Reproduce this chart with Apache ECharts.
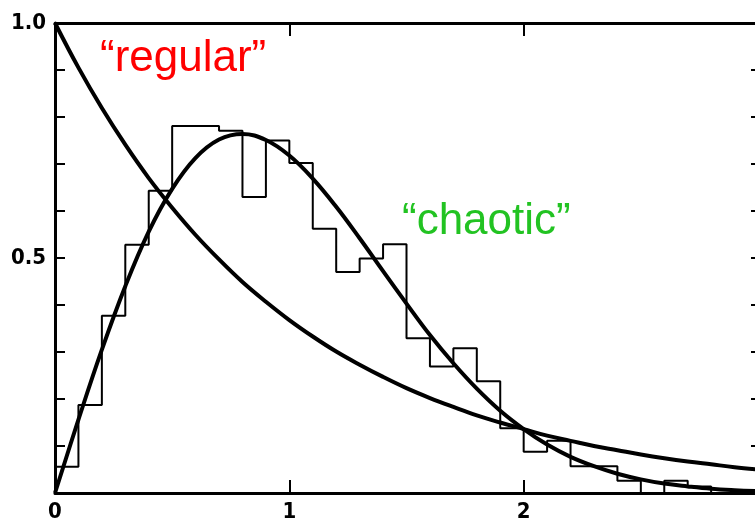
<!DOCTYPE html>
<html>
<head>
<meta charset="utf-8">
<script src="https://cdn.jsdelivr.net/npm/echarts@6/dist/echarts.min.js"></script>
<style>
  html, body { margin: 0; padding: 0; background: #fff; }
  #chart { width: 755px; height: 527px; }
</style>
</head>
<body>
<div id="chart"></div>
<script>
// Level spacing s (in units of mean spacing) where the two reference curves are sampled
const sPoints = [0, 0.1, 0.2, 0.3, 0.4, 0.5, 0.6, 0.7, 0.8, 0.9, 1.0, 1.1, 1.2, 1.3, 1.4, 1.5,
                 1.6, 1.7, 1.8, 1.9, 2.0, 2.1, 2.2, 2.3, 2.4, 2.5, 2.6, 2.7, 2.8, 2.9, 3.0];

// "regular" spectrum: Poisson-like decay
const regularCurve = [1.000, 0.905, 0.819, 0.741, 0.670, 0.607, 0.549, 0.497, 0.449, 0.407, 0.368,
                      0.333, 0.301, 0.273, 0.247, 0.223, 0.202, 0.183, 0.165, 0.150, 0.136,
                      0.122, 0.111, 0.100, 0.091, 0.082, 0.074, 0.067, 0.061, 0.055, 0.050];

// "chaotic" spectrum: level-repulsion curve
const chaoticCurve = [0.000, 0.156, 0.305, 0.440, 0.556, 0.647, 0.713, 0.752, 0.764, 0.751, 0.718,
                      0.669, 0.609, 0.542, 0.472, 0.403, 0.336, 0.276, 0.222, 0.175, 0.136,
                      0.103, 0.077, 0.057, 0.041, 0.029, 0.020, 0.014, 0.009, 0.006, 0.004];

// Histogram of measured spacings: left edge of each 0.1-wide bin and its height
const binStarts  = [0.0, 0.1, 0.2, 0.3, 0.4, 0.5, 0.6, 0.7, 0.8, 0.9, 1.0, 1.1, 1.2, 1.3, 1.4,
                    1.5, 1.6, 1.7, 1.8, 1.9, 2.0, 2.1, 2.2, 2.3, 2.4, 2.5, 2.6, 2.7, 2.8, 3.0];
const binHeights = [0.056, 0.187, 0.377, 0.528, 0.643, 0.781, 0.781, 0.771, 0.630, 0.750, 0.702,
                    0.562, 0.470, 0.499, 0.529, 0.329, 0.269, 0.308, 0.238, 0.138, 0.088,
                    0.111, 0.057, 0.057, 0.026, 0.000, 0.026, 0.014, 0.000, 0.000];

// Tick labels
const xTickLabels = { 0: '0', 1: '1', 2: '2' };
const yTickLabels = { 0.5: '0.5', 1: '1.0' };

const tickFont = {
  fontFamily: '"DejaVu Sans Condensed", "Liberation Sans Narrow", "Liberation Sans", sans-serif',
  fontWeight: 'bold',
  fontSize: 22,
  color: '#000'
};

const zip = (xs, ys) => xs.map((x, i) => [x, ys[i]]);

const axisLine = { show: true, onZero: false, lineStyle: { color: '#000', width: 3 } };
const tickStyle = { color: '#000', width: 2 };

const chart = echarts.init(document.getElementById('chart'), null, { renderer: 'canvas' });

chart.setOption({
  animation: false,
  backgroundColor: '#fff',
  grid: { left: 55, right: -3, top: 23, bottom: 34, containLabel: false, outerBoundsMode: 'none' },
  xAxis: [
    {
      type: 'value', position: 'bottom', min: 0, max: 3, interval: 1,
      axisLine: axisLine,
      axisTick: { show: true, inside: true, length: 13, lineStyle: tickStyle },
      axisLabel: Object.assign({
        margin: 8,
        formatter: v => (xTickLabels[Math.round(v)] !== undefined && Math.abs(v - Math.round(v)) < 1e-6) ? xTickLabels[Math.round(v)] : ''
      }, tickFont),
      splitLine: { show: false }
    },
    {
      type: 'value', position: 'top', min: 0, max: 3, interval: 1,
      axisLine: axisLine,
      axisTick: { show: true, inside: true, length: 13, lineStyle: tickStyle },
      axisLabel: { show: false },
      splitLine: { show: false }
    }
  ],
  yAxis: [
    {
      type: 'value', position: 'left', min: 0, max: 1, interval: 0.1,
      axisLine: axisLine,
      axisTick: { show: true, inside: true, length: 10, lineStyle: tickStyle },
      axisLabel: Object.assign({
        margin: 9,
        showMinLabel: true, showMaxLabel: true,
        formatter: v => {
          for (const k in yTickLabels) {
            if (Math.abs(v - Number(k)) < 1e-6) return yTickLabels[k];
          }
          return '';
        }
      }, tickFont),
      splitLine: { show: false }
    },
    {
      type: 'value', position: 'right', min: 0, max: 1, interval: 0.1,
      axisLine: axisLine,
      axisTick: { show: true, inside: true, length: 7, lineStyle: tickStyle },
      axisLabel: { show: false },
      splitLine: { show: false }
    }
  ],
  series: [
    {
      name: 'histogram',
      type: 'line',
      step: 'end',
      data: zip(binStarts, binHeights),
      showSymbol: false,
      lineStyle: { color: '#000', width: 2 },
      z: 2
    },
    {
      name: 'regular',
      type: 'line',
      smooth: 0.4,
      data: zip(sPoints, regularCurve),
      showSymbol: false,
      lineStyle: { color: '#000', width: 4 },
      z: 3
    },
    {
      name: 'chaotic',
      type: 'line',
      smooth: 0.4,
      data: zip(sPoints, chaoticCurve),
      showSymbol: false,
      lineStyle: { color: '#000', width: 4 },
      z: 3
    }
  ],
  graphic: [
    {
      type: 'text', left: 100, top: 37,
      style: {
        text: '\u201Cregular\u201D',
        fill: '#ff0000',
        font: '44px "Liberation Sans", Arial, sans-serif'
      }
    },
    {
      type: 'text', left: 402, top: 200,
      style: {
        text: '\u201Cchaotic\u201D',
        fill: '#22c322',
        font: '44px "Liberation Sans", Arial, sans-serif'
      }
    }
  ]
});
</script>
</body>
</html>
